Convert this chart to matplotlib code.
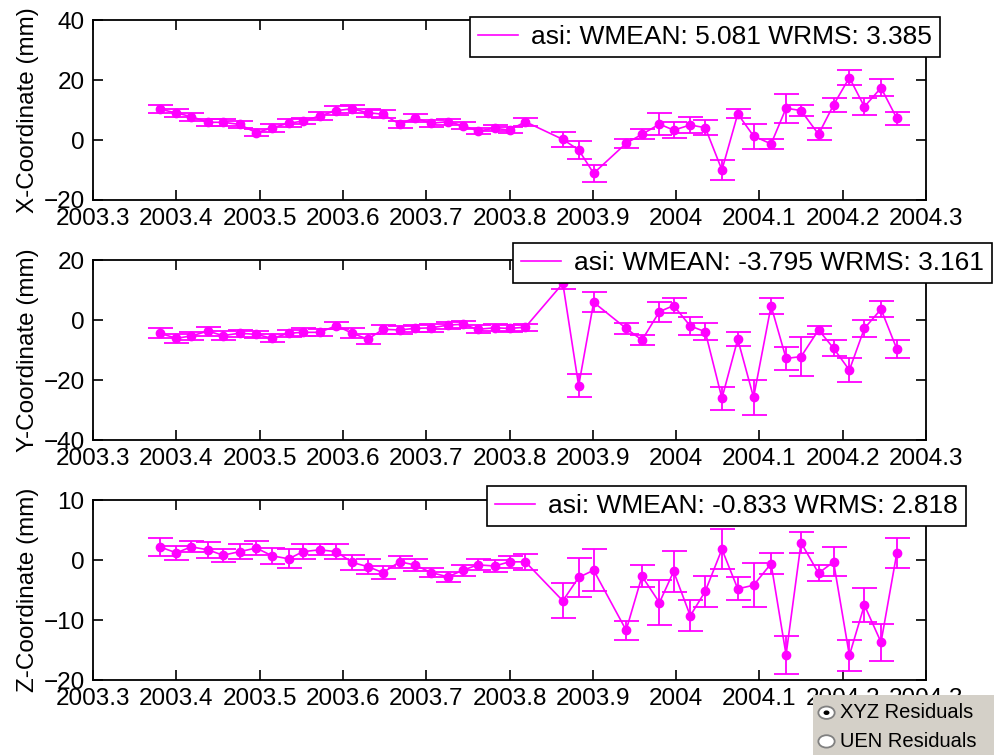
"""
Weekly coordinate residuals (X, Y, Z) for station asi, with error bars.
"""

import matplotlib
matplotlib.use("Agg")
import matplotlib.pyplot as plt
from matplotlib.lines import Line2D
from matplotlib.patches import Rectangle, Circle
from matplotlib.ticker import FuncFormatter

plt.rcParams['font.family'] = ['Liberation Sans', 'DejaVu Sans']

# decimal years of the weekly solutions
epochs = [2003.380, 2003.400, 2003.418, 2003.438, 2003.456, 2003.476, 2003.496,
          2003.515, 2003.535, 2003.552, 2003.572, 2003.592, 2003.611, 2003.630,
          2003.648, 2003.668, 2003.686, 2003.706, 2003.726, 2003.744, 2003.762,
          2003.782, 2003.800, 2003.819, 2003.864, 2003.883, 2003.901, 2003.940,
          2003.959, 2003.980, 2003.997, 2004.017, 2004.035, 2004.055, 2004.074,
          2004.093, 2004.114, 2004.132, 2004.150, 2004.171, 2004.189, 2004.208,
          2004.226, 2004.246, 2004.265]

x_res = [10.3, 9.0, 7.8, 5.9, 5.9, 5.2, 2.4, 4.1, 5.6, 6.3, 8.0, 9.8, 10.4, 9.1,
         8.6, 5.3, 7.4, 5.6, 6.1, 4.8, 3.0, 3.9, 3.3, 6.1, 0.2, -3.3, -11.1, -1.1,
         1.9, 5.3, 3.3, 5.0, 4.1, -10.0, 8.7, 1.3, -1.3, 10.6, 9.8, 1.9, 11.7,
         20.8, 11.1, 17.4, 7.2]
x_err = [1.4, 1.4, 1.3, 1.2, 1.2, 1.3, 1.2, 1.3, 1.4, 1.0, 1.3, 1.4, 1.3, 1.3,
         1.3, 1.2, 1.3, 1.1, 1.0, 1.1, 1.0, 1.0, 1.0, 1.3, 2.4, 2.9, 2.8, 1.6,
         1.7, 3.6, 2.7, 2.6, 2.5, 3.3, 1.5, 4.2, 1.7, 4.8, 1.8, 2.0, 2.3,
         2.5, 2.9, 2.8, 2.3]

y_res = [-4.4, -6.1, -5.3, -3.7, -5.2, -4.4, -4.8, -6.1, -4.4, -4.1, -4.1, -1.9,
         -4.4, -6.4, -3.1, -3.3, -2.8, -2.6, -1.7, -1.4, -3.1, -2.6, -2.8, -2.4,
         12.2, -21.9, 5.9, -2.8, -6.7, 2.8, 4.8, -2.0, -3.9, -26.1, -6.4, -25.8,
         4.7, -12.8, -12.2, -3.3, -9.4, -16.7, -2.8, 3.6, -9.7]
y_err = [1.6, 1.6, 1.3, 1.5, 1.6, 1.2, 1.2, 1.3, 1.2, 1.3, 1.2, 1.2,
         1.6, 1.6, 1.5, 1.2, 1.2, 1.3, 1.2, 1.2, 1.3, 1.2, 1.2, 1.2,
         2.0, 3.9, 3.3, 1.7, 1.7, 3.3, 2.4, 2.9, 2.9, 3.9, 2.3, 5.7,
         2.7, 3.8, 6.4, 1.3, 2.6, 3.9, 2.7, 2.6, 2.9]

z_res = [2.2, 1.2, 2.2, 1.7, 0.8, 1.4, 2.0, 0.7, 0.2, 1.4, 1.7, 1.4, -0.4, -1.1,
         -2.1, -0.3, -0.8, -2.1, -2.8, -1.7, -0.8, -1.0, -0.3, -0.3, -6.8, -2.9,
         -1.7, -11.7, -2.7, -7.1, -1.9, -9.3, -5.2, 1.8, -4.8, -4.2, -0.6, -15.8,
         2.9, -2.2, -0.3, -15.9, -7.5, -13.7, 1.2]
z_err = [1.5, 1.2, 0.9, 1.3, 1.1, 1.2, 1.2, 1.3, 1.6, 1.3, 0.9, 1.3, 1.2, 1.3,
         1.1, 1.0, 1.0, 0.8, 0.8, 0.9, 0.9, 1.0, 1.0, 1.3, 2.9, 3.2,
         3.5, 1.6, 1.8, 3.7, 3.4, 2.6, 2.6, 3.3, 1.9, 3.7, 1.8, 3.2,
         1.7, 1.3, 2.4, 2.6, 2.9, 3.1, 2.5]

panels = [
    ("X-Coordinate (mm)", x_res, x_err, (-20, 40), [-20, 0, 20, 40],
     "asi: WMEAN: 5.081 WRMS: 3.385"),
    ("Y-Coordinate (mm)", y_res, y_err, (-40, 20), [-40, -20, 0, 20],
     "asi: WMEAN: -3.795 WRMS: 3.161"),
    ("Z-Coordinate (mm)", z_res, z_err, (-20, 10), [-20, -10, 0, 10],
     "asi: WMEAN: -0.833 WRMS: 2.818"),
]
x_ticks = [2003.3, 2003.4, 2003.5, 2003.6, 2003.7, 2003.8, 2003.9,
           2004.0, 2004.1, 2004.2, 2004.3]

# axes boxes and legend centres in figure fractions
ax_boxes = [[0.0936, 0.7351, 0.838, 0.2384],
            [0.0936, 0.4172, 0.838, 0.2384],
            [0.0936, 0.0993, 0.838, 0.2384]]
legend_centres = [(0.7093, 0.951), (0.757, 0.652), (0.731, 0.330)]

color = '#ff00ff'
fsize = 17.5

fig = plt.figure(figsize=(9.94, 7.55), dpi=100)

for (label, vals, errs, ylim, yticks, leg), box, lc in zip(panels, ax_boxes, legend_centres):
    ax = fig.add_axes(box)
    ax.errorbar(epochs, vals, yerr=errs, fmt='-o', color=color, ms=6,
                lw=1.2, elinewidth=1.3, capsize=9, capthick=1.3)
    ax.set_xlim(2003.3, 2004.3)
    ax.set_ylim(*ylim)
    ax.set_xticks(x_ticks)
    ax.set_yticks(yticks)
    ax.xaxis.set_major_formatter(FuncFormatter(lambda v, p: f"{v:g}"))
    ax.tick_params(direction='in', top=True, right=True, length=7, width=1.2,
                   labelsize=fsize, pad=6)
    for s in ax.spines.values():
        s.set_linewidth(1.3)
    ax.set_ylabel(label, fontsize=fsize, labelpad=3)

    handle = Line2D([], [], color=color, lw=1.2)
    lg = ax.legend([handle], [leg], loc='center', bbox_to_anchor=lc,
                   bbox_transform=fig.transFigure, fontsize=19,
                   fancybox=False, framealpha=1, edgecolor='black',
                   handlelength=1.5, borderpad=0.3, handletextpad=0.5,
                   borderaxespad=0)
    lg.get_frame().set_linewidth(1.2)
    lg.set_zorder(10)

# radio button panel in the lower right corner
panel = Rectangle((0.818, 0.0), 0.182, 0.079, transform=fig.transFigure,
                  facecolor='#d4d0c8', edgecolor='none', zorder=20)
fig.patches.append(panel)
for ypos, txt, picked in [(0.056, "XYZ Residuals", True), (0.018, "UEN Residuals", False)]:
    fig.patches.append(Circle((0.8315, ypos), 0.0082, transform=fig.transFigure,
                              facecolor='white', edgecolor='#808080', lw=1.3, zorder=21))
    if picked:
        fig.patches.append(Circle((0.8315, ypos), 0.003, transform=fig.transFigure,
                                  facecolor='black', edgecolor='none', zorder=22))
    fig.text(0.845, ypos, txt, fontsize=14.5, va='center', ha='left', zorder=23)

fig.savefig('out.png', dpi=100)
